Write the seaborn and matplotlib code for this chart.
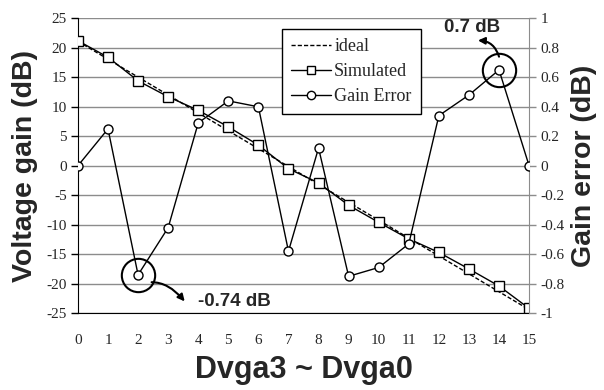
import matplotlib
matplotlib.use("Agg")
import matplotlib.pyplot as plt
import seaborn as sns
import numpy as np
import pandas as pd
from matplotlib.lines import Line2D

codes = list(range(16))
ideal = [21.1, 18.07, 15.03, 12.0, 8.97, 5.93, 2.9, -0.13, -3.17, -6.2, -9.23, -12.27, -15.3, -18.33, -21.37, -24.4]
simulated = [21.2, 18.4, 14.4, 11.7, 9.4, 6.6, 3.5, -0.5, -2.9, -6.7, -9.6, -12.4, -14.7, -17.5, -20.4, -24.2]
gain_error = [0.0, 0.25, -0.74, -0.42, 0.29, 0.44, 0.40, -0.58, 0.12, -0.75, -0.69, -0.53, 0.34, 0.48, 0.65, 0.0]
left_ticks = [-25, -20, -15, -10, -5, 0, 5, 10, 15, 20, 25]
right_ticks = [-1, -0.8, -0.6, -0.4, -0.2, 0, 0.2, 0.4, 0.6, 0.8, 1]
right_ticklabels = ["-1", "-0.8", "-0.6", "-0.4", "-0.2", "0", "0.2", "0.4", "0.6", "0.8", "1"]
min_label = "-0.74 dB"
max_label = "0.7 dB"

sns.set_style("white")
serif = ["Liberation Serif", "DejaVu Serif"]
sans = ["Liberation Sans", "DejaVu Sans"]

fig = plt.figure(figsize=(6.04, 3.9), dpi=100)
ax = fig.add_axes([0.129, 0.197, 0.747, 0.756])
ax2 = ax.twinx()

df = pd.DataFrame({"code": codes, "ideal": ideal, "sim": simulated, "err": gain_error})

sns.lineplot(data=df, x="code", y="ideal", ax=ax, color="black", lw=1.0,
             linestyle=(0, (3, 1.5)), zorder=3)
sns.lineplot(data=df, x="code", y="sim", ax=ax, color="black", lw=1.0, marker="s",
             markersize=7, markerfacecolor="white", markeredgecolor="black",
             markeredgewidth=1.0, zorder=4)
sns.lineplot(data=df, x="code", y="err", ax=ax2, color="black", lw=1.0, marker="o",
             markersize=6.5, markerfacecolor="white", markeredgecolor="black",
             markeredgewidth=1.0, zorder=4)

ax.set_xlim(0, 15)
ax.set_ylim(-25, 25)
ax2.set_ylim(-1, 1)
ax.set_yticks(left_ticks)
ax.set_yticklabels([str(t) for t in left_ticks], fontfamily=serif, fontsize=11)
ax.set_xticks(codes)
ax.set_xticklabels([str(c) for c in codes], fontfamily=serif, fontsize=11)
ax2.set_yticks(right_ticks)
ax2.set_yticklabels(right_ticklabels, fontfamily=serif, fontsize=11)

for t in left_ticks:
    ax.axhline(t, color="#8c8c8c", lw=1.0, zorder=1)

ax.tick_params(axis="x", direction="out", length=5, width=1, color="black", pad=10)
ax.tick_params(axis="y", direction="out", length=5, width=1, color="black", pad=3)
ax2.tick_params(axis="y", direction="out", length=5, width=1, color="#8c8c8c", pad=3)

ax.spines["top"].set_visible(False)
ax2.spines["top"].set_visible(False)
ax.spines["left"].set_color("black")
ax.spines["bottom"].set_color("black")
ax2.spines["left"].set_visible(False)
ax2.spines["bottom"].set_visible(False)
ax2.spines["right"].set_color("#8c8c8c")
ax.spines["right"].set_visible(False)

ax.set_xlabel("Dvga3 ~ Dvga0", fontfamily=sans, fontsize=22, fontweight="bold", labelpad=6)
ax.set_ylabel("Voltage gain (dB)", fontfamily=sans, fontsize=20.5, fontweight="bold", labelpad=6)
ax2.set_ylabel("Gain error (dB)", fontfamily=sans, fontsize=20.5, fontweight="bold", labelpad=5)

# highlight circles at min and max error
imin = int(np.argmin(gain_error[:9]))
imax = int(np.argmax(gain_error))
ax2.plot([codes[imin]], [gain_error[imin]], marker="o", markersize=24,
         markerfacecolor="none", markeredgecolor="black", markeredgewidth=1.5, zorder=5)
ax2.plot([codes[imax]], [gain_error[imax]], marker="o", markersize=24,
         markerfacecolor="none", markeredgecolor="black", markeredgewidth=1.5, zorder=5)

ax2.annotate("", xy=(codes[imin] + 1.55, gain_error[imin] - 0.18),
             xytext=(codes[imin] + 0.45, gain_error[imin] - 0.05),
             arrowprops=dict(arrowstyle="-|>", color="black", lw=1.5,
                             connectionstyle="angle3,angleA=0,angleB=-50",
                             shrinkA=0, shrinkB=0, mutation_scale=10), zorder=6)
ax2.text(codes[imin] + 2.0, gain_error[imin] - 0.18, min_label, fontfamily=sans,
         fontsize=13.5, fontweight="bold", ha="left", va="center")

ax2.annotate("", xy=(codes[imax] - 0.7, gain_error[imax] + 0.2),
             xytext=(codes[imax], gain_error[imax] + 0.09),
             arrowprops=dict(arrowstyle="-|>", color="black", lw=1.5,
                             connectionstyle="arc3,rad=0.35",
                             shrinkA=0, shrinkB=0, mutation_scale=10), zorder=6)
ax2.text(codes[imax] - 0.9, gain_error[imax] + 0.29, max_label, fontfamily=sans,
         fontsize=13.5, fontweight="bold", ha="center", va="center")

handles = [
    Line2D([], [], color="black", lw=1.0, linestyle=(0, (3, 1.5))),
    Line2D([], [], color="black", lw=1.0, marker="s", markersize=6,
           markerfacecolor="white", markeredgecolor="black"),
    Line2D([], [], color="black", lw=1.0, marker="o", markersize=6,
           markerfacecolor="white", markeredgecolor="black"),
]
leg = ax2.legend(handles, ["ideal", "Simulated", "Gain Error"],
                 loc="upper left", bbox_to_anchor=(0.452, 0.964), borderaxespad=0,
                 prop={"family": serif, "size": 13}, frameon=True, fancybox=False,
                 edgecolor="black", framealpha=1, handlelength=2.2, handletextpad=0.2,
                 borderpad=0.5, labelspacing=0.45)
leg.get_frame().set_linewidth(1.0)

fig.savefig("out.png", dpi=100)
